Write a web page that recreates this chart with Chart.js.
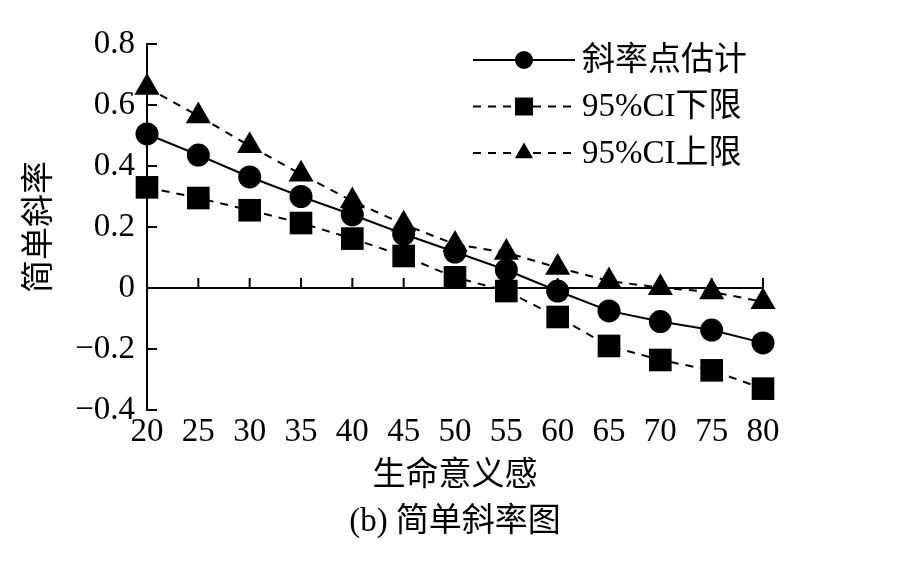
<!DOCTYPE html>
<html>
<head>
<meta charset="utf-8">
<script src="https://cdn.jsdelivr.net/npm/chart.js@4/dist/chart.umd.min.js"></script>
<style>
  html, body { margin: 0; padding: 0; background: #fff; }
  #wrap { width: 905px; height: 580px; }
</style>
</head>
<body>
<div id="wrap"><canvas id="c" width="905" height="580"></canvas></div>
<script>
// ---- data ----
const categories = ['20', '25', '30', '35', '40', '45', '50', '55', '60', '65', '70', '75', '80'];
const estimate = [0.505, 0.436, 0.364, 0.300, 0.240, 0.177, 0.118, 0.059, -0.010, -0.075, -0.110, -0.138, -0.180];
const lower    = [0.330, 0.295, 0.255, 0.213, 0.162, 0.105, 0.035, -0.010, -0.095, -0.190, -0.236, -0.270, -0.330];
const upper    = [0.657, 0.564, 0.466, 0.373, 0.285, 0.209, 0.143, 0.116, 0.067, 0.023, 0.001, -0.013, -0.045];
const seriesNames = ['斜率点估计', '95%CI下限', '95%CI上限'];
const yTickLabels = ['\u22120.4', '\u22120.2', '0', '0.2', '0.4', '0.6', '0.8'];
const xTitle = '生命意义感';
const yTitle = '简单斜率';
const caption = '(b) 简单斜率图';

// ---- style ----
const FONT = '"Liberation Serif", "Noto Sans CJK SC", serif';
const INK = '#000';

const decor = {
  id: 'decor',
  beforeDatasetsDraw(chart) {
    const { ctx, chartArea: a, scales: { x, y } } = chart;
    const y0 = y.getPixelForValue(0);
    ctx.save();
    ctx.strokeStyle = INK;
    ctx.lineWidth = 2;
    ctx.beginPath();
    ctx.moveTo(a.left, y0);
    ctx.lineTo(a.right, y0);
    x.ticks.forEach((t, i) => {
      const px = x.getPixelForTick(i);
      ctx.moveTo(px, y0);
      ctx.lineTo(px, y0 - 10);
    });
    y.ticks.forEach((t, i) => {
      const py = y.getPixelForTick(i);
      ctx.moveTo(a.left, py);
      ctx.lineTo(a.left + 10, py);
    });
    ctx.stroke();
    ctx.restore();
  },
  afterDraw(chart) {
    const { ctx, chartArea: a } = chart;
    const legendRadius = { circle: 9, rect: 12.7, triangle: 10.5 };
    ctx.save();
    chart.data.datasets.forEach((ds, i) => {
      const cy = a.top + 16 + i * 46.5;
      const x0 = a.left + 326, x1 = a.left + 428;
      ctx.strokeStyle = INK;
      ctx.lineWidth = 2;
      ctx.setLineDash(ds.borderDash || []);
      ctx.beginPath();
      ctx.moveTo(x0, cy);
      ctx.lineTo(x1, cy);
      ctx.stroke();
      ctx.setLineDash([]);
      ctx.fillStyle = INK;
      Chart.helpers.drawPoint(ctx, {
        pointStyle: ds.pointStyle, rotation: 0,
        radius: legendRadius[ds.pointStyle], borderWidth: 0
      }, (x0 + x1) / 2, cy);
      ctx.font = '33px ' + FONT;
      ctx.textBaseline = 'middle';
      ctx.textAlign = 'left';
      ctx.fillText(ds.label, a.left + 435, cy + 1);
    });
    ctx.restore();
  }
};

const tickFont = { family: FONT, size: 33, weight: 'normal' };

const common = {
  borderColor: INK, borderWidth: 2, tension: 0,
  pointBackgroundColor: INK, pointBorderColor: INK, pointBorderWidth: 0,
  clip: false, fill: false
};

new Chart(document.getElementById('c'), {
  type: 'line',
  data: {
    labels: categories,
    datasets: [
      Object.assign({}, common, { label: seriesNames[0], data: estimate, pointStyle: 'circle', pointRadius: 11.5 }),
      Object.assign({}, common, { label: seriesNames[1], data: lower, pointStyle: 'rect', pointRadius: 16, borderDash: [8, 7] }),
      Object.assign({}, common, { label: seriesNames[2], data: upper, pointStyle: 'triangle', pointRadius: 14.5, borderDash: [8, 7] })
    ]
  },
  options: {
    responsive: false,
    animation: false,
    devicePixelRatio: 1,
    layout: { padding: { left: 0, top: 44, right: 142, bottom: 37.4 } },
    plugins: {
      legend: { display: false },
      tooltip: { enabled: false },
      title: {
        display: true, text: caption, position: 'bottom', fullSize: false,
        color: INK, font: { family: FONT, size: 33, weight: 'normal' },
        padding: { top: 7, bottom: 0 }
      }
    },
    scales: {
      x: {
        type: 'category', offset: false,
        grid: { display: false, drawTicks: false },
        border: { display: false },
        ticks: { color: INK, font: tickFont, padding: 3, maxRotation: 0, autoSkip: false },
        title: { display: true, text: xTitle, color: INK, font: tickFont, padding: { top: 0, bottom: 0 } },
        afterFit(s) { s.height = 86; }
      },
      y: {
        min: -0.4, max: 0.8,
        grid: { display: false, drawTicks: false },
        border: { display: true, color: INK, width: 2 },
        ticks: { stepSize: 0.2, color: INK, font: tickFont, padding: 12, callback: (v, i) => yTickLabels[i] },
        title: { display: true, text: yTitle, color: INK, font: tickFont, padding: { top: 21, bottom: 0 } },
        afterFit(s) { s.width = 147; }
      }
    }
  },
  plugins: [decor]
});
</script>
</body>
</html>
